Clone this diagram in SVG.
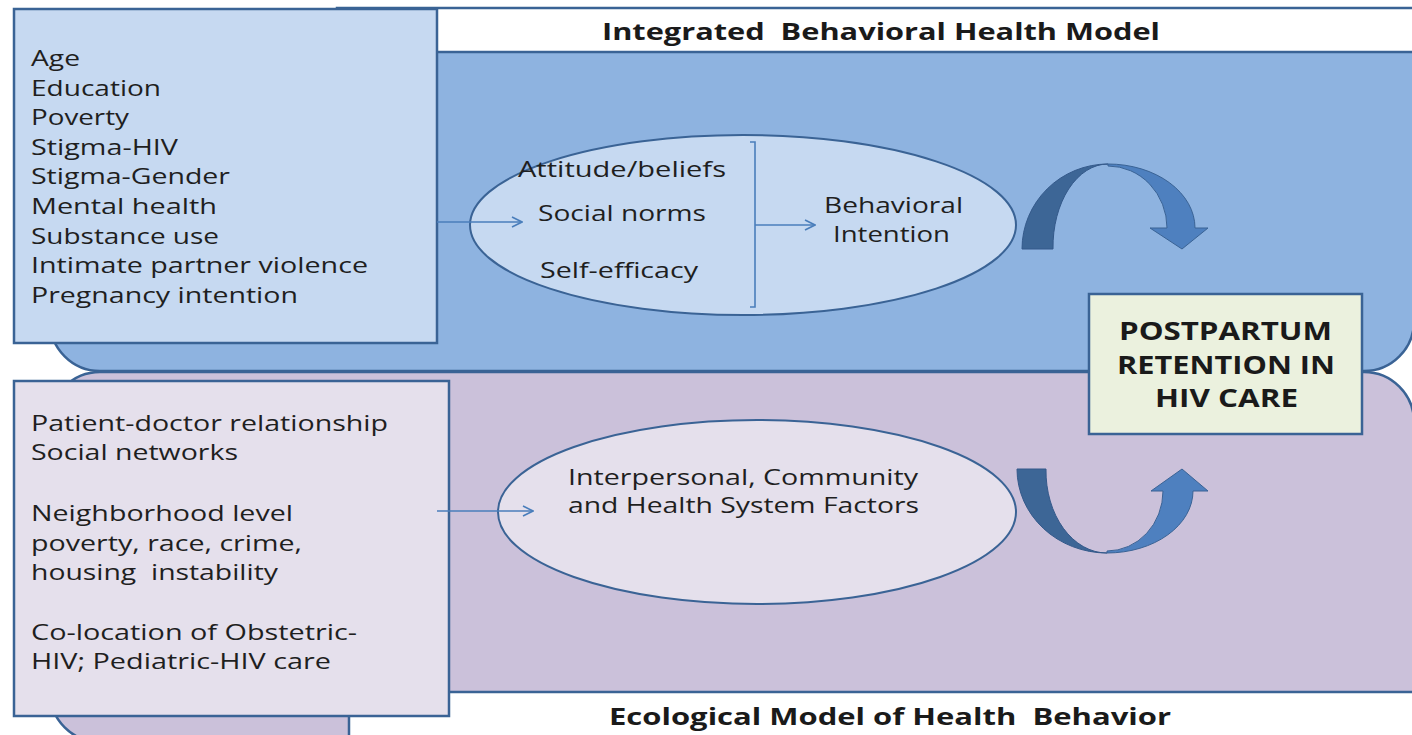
<svg xmlns="http://www.w3.org/2000/svg" width="1412" height="735" viewBox="0 0 1412 735">
<style>
.panel{stroke:#3A6395;stroke-width:2.5}
.box{stroke:#3A6395;stroke-width:2.5}
.t{font-family:"Open Sans","Liberation Sans",sans-serif;font-size:22px;fill:#1F1F1F}
.b{font-family:"Open Sans","Liberation Sans",sans-serif;font-weight:bold;fill:#1A1A1A}
.pre{white-space:pre}
.conn{stroke:#4A7EBB;stroke-width:1.6;fill:none}
.dark{fill:#3D6696;stroke:#34598A;stroke-width:1}
.light{fill:#4E80BF;stroke:#3A6395;stroke-width:1}
</style>
<defs>
<marker id="chev" viewBox="0 0 12 12" refX="11" refY="6" markerWidth="12" markerHeight="12" markerUnits="userSpaceOnUse" orient="auto">
<path d="M1,1 L11,6 L1,11" fill="none" stroke="#4A7EBB" stroke-width="1.6"/>
</marker>
</defs>

<g id="panel-ibhm">
<path class="panel" d="M50,10 H1414 V321 A50,50 0 0 1 1364,371 H100 A50,50 0 0 1 50,321 Z" fill="#8EB3E0"/>
</g>
<g id="panel-ecological">
<path class="panel" d="M100,372 H1364 A50,50 0 0 1 1414,422 V742 H100 A50,50 0 0 1 50,692 V422 A50,50 0 0 1 100,372 Z" fill="#CBC1DA"/>
</g>

<g id="title-ibhm">
<rect class="box" x="337" y="8" width="1090" height="44" fill="#FFFFFF"/>
<text class="b pre" x="602" y="40" font-size="24" textLength="558" lengthAdjust="spacingAndGlyphs" xml:space="preserve">Integrated  Behavioral Health Model</text>
</g>

<g id="individual-factors">
<rect class="box" x="14" y="9" width="423" height="334" fill="#C6D9F1"/>
<text class="t" x="31" y="66" textLength="49" lengthAdjust="spacingAndGlyphs">Age</text>
<text class="t" x="31" y="96" textLength="130" lengthAdjust="spacingAndGlyphs">Education</text>
<text class="t" x="31" y="125" textLength="98" lengthAdjust="spacingAndGlyphs">Poverty</text>
<text class="t" x="31" y="155" textLength="147" lengthAdjust="spacingAndGlyphs">Stigma-HIV</text>
<text class="t" x="31" y="184" textLength="199" lengthAdjust="spacingAndGlyphs">Stigma-Gender</text>
<text class="t" x="31" y="214" textLength="186" lengthAdjust="spacingAndGlyphs">Mental health</text>
<text class="t" x="31" y="244" textLength="188" lengthAdjust="spacingAndGlyphs">Substance use</text>
<text class="t" x="31" y="273" textLength="337" lengthAdjust="spacingAndGlyphs">Intimate partner violence</text>
<text class="t" x="31" y="303" textLength="267" lengthAdjust="spacingAndGlyphs">Pregnancy intention</text>
</g>

<g id="ibhm-ellipse">
<ellipse cx="743" cy="225" rx="273" ry="90" fill="#C6D9F1" stroke="#3A6395" stroke-width="2"/>
<text class="t" x="518" y="177" textLength="208" lengthAdjust="spacingAndGlyphs">Attitude/beliefs</text>
<text class="t" x="538" y="221" textLength="168" lengthAdjust="spacingAndGlyphs">Social norms</text>
<text class="t" x="540" y="278" textLength="158" lengthAdjust="spacingAndGlyphs">Self-efficacy</text>
<text class="t" x="824" y="213" textLength="139" lengthAdjust="spacingAndGlyphs">Behavioral</text>
<text class="t" x="833" y="242" textLength="117" lengthAdjust="spacingAndGlyphs">Intention</text>
</g>

<g id="title-ecological">
<rect class="box" x="349" y="692" width="1090" height="50" fill="#FFFFFF"/>
<text class="b pre" x="609" y="725" font-size="24" textLength="562" lengthAdjust="spacingAndGlyphs" xml:space="preserve">Ecological Model of Health  Behavior</text>
</g>

<g id="environmental-factors">
<rect class="box" x="14" y="381" width="435" height="335" fill="#E5E0EC"/>
<text class="t" x="31" y="431" textLength="357" lengthAdjust="spacingAndGlyphs">Patient-doctor relationship</text>
<text class="t" x="31" y="460" textLength="207" lengthAdjust="spacingAndGlyphs">Social networks</text>
<text class="t" x="31" y="521" textLength="262" lengthAdjust="spacingAndGlyphs">Neighborhood level</text>
<text class="t" x="31" y="551" textLength="271" lengthAdjust="spacingAndGlyphs">poverty, race, crime,</text>
<text class="t pre" x="31" y="580" textLength="247" lengthAdjust="spacingAndGlyphs" xml:space="preserve">housing  instability</text>
<text class="t" x="31" y="640" textLength="326" lengthAdjust="spacingAndGlyphs">Co-location of Obstetric-</text>
<text class="t" x="31" y="669" textLength="300" lengthAdjust="spacingAndGlyphs">HIV; Pediatric-HIV care</text>
</g>

<g id="ecological-ellipse">
<ellipse cx="757" cy="512" rx="259" ry="92" fill="#E5E0EC" stroke="#3A6395" stroke-width="2"/>
<text class="t" x="568" y="485" textLength="350" lengthAdjust="spacingAndGlyphs">Interpersonal, Community</text>
<text class="t" x="568" y="513" textLength="351" lengthAdjust="spacingAndGlyphs">and Health System Factors</text>
</g>

<g id="outcome">
<rect class="box" x="1089" y="294" width="273" height="140" fill="#EBF1DE"/>
<text class="b" x="1119" y="340" font-size="25" textLength="213" lengthAdjust="spacingAndGlyphs">POSTPARTUM</text>
<text class="b" x="1117" y="374" font-size="25" textLength="218" lengthAdjust="spacingAndGlyphs">RETENTION IN</text>
<text class="b" x="1155" y="407" font-size="25" textLength="143" lengthAdjust="spacingAndGlyphs">HIV CARE</text>
</g>

<g id="connectors">
<line class="conn" x1="437" y1="222" x2="522" y2="222" marker-end="url(#chev)"/>
<path class="conn" d="M750,142 L755,142 L755,307 L750,307"/>
<line class="conn" x1="755" y1="225" x2="815" y2="225" marker-end="url(#chev)"/>
<line class="conn" x1="437" y1="511" x2="533" y2="511" marker-end="url(#chev)"/>
<g id="curved-arrow-top">
<path class="dark" d="M1022,249 A86,85 0 0 1 1108,164 A55,83 0 0 0 1053,249 Z"/>
<path class="light" d="M1108,164 A87,64 0 0 1 1195,228 L1208,228 L1182,249 L1150,228 L1167,228 A59,62 0 0 0 1108,166 Z"/>
</g>
<g id="curved-arrow-bottom">
<path class="dark" d="M1017,469 A90,84 0 0 0 1107,553 A61,82 0 0 1 1046,469 Z"/>
<path class="light" d="M1107,553 A86,62 0 0 0 1193,491 L1208,491 L1182,469 L1151,491 L1163,491 A56,60 0 0 1 1107,551 Z"/>
</g>
</g>
</svg>
